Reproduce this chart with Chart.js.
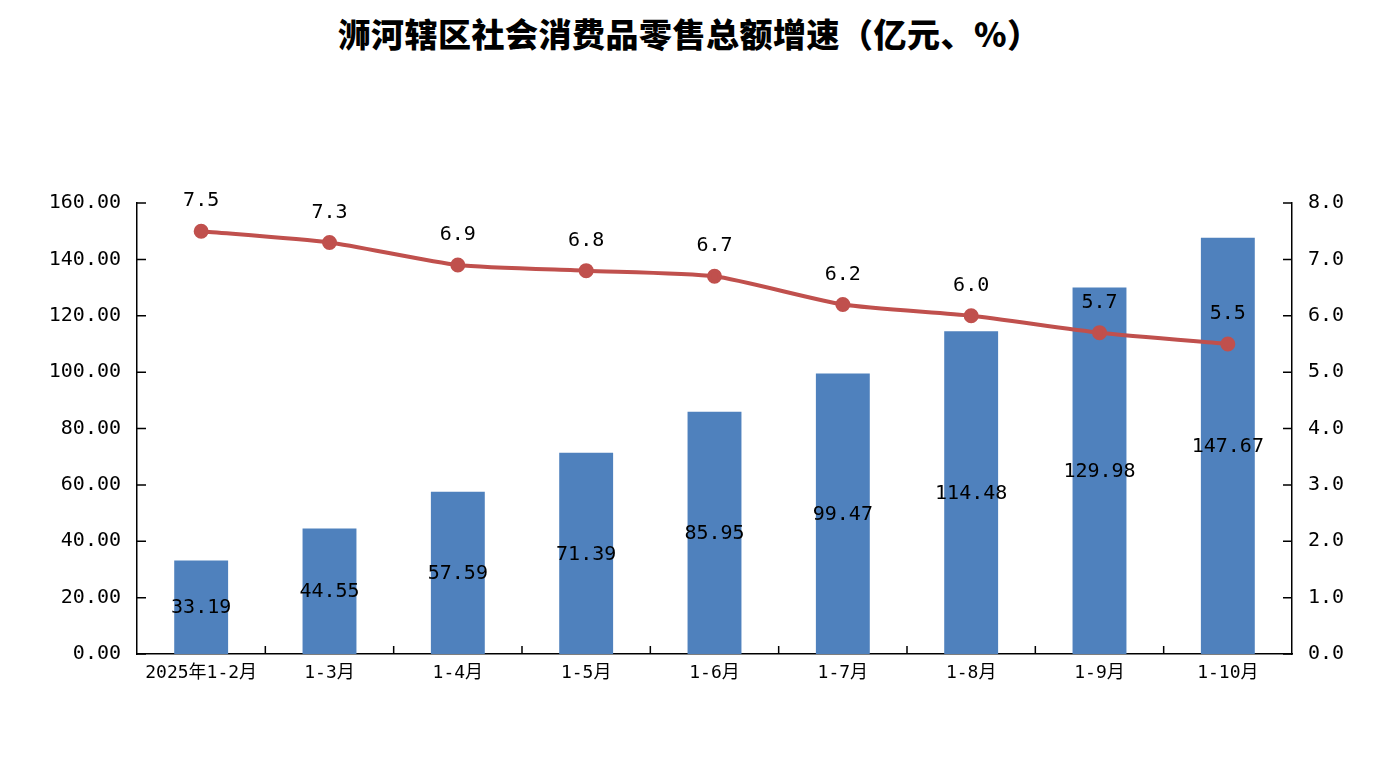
<!DOCTYPE html>
<html>
<head>
<meta charset="utf-8">
<script src="https://cdn.jsdelivr.net/npm/chart.js@4"></script>
<style>
    html, body { margin: 0; padding: 0; background: #fff; }
    #wrap { position: relative; width: 1378px; height: 779px; }
    #title {
        position: absolute; left: 0; top: 10px; width: 1378px; text-align: center;
        font-family: "Noto Sans CJK SC", sans-serif; font-weight: 900; font-size: 33px;
        color: #000; line-height: 46px; letter-spacing: 0.5px;
    }
    canvas { position: absolute; left: 0; top: 0; }
</style>
</head>
<body>
<div id="wrap">
    <div id="title">浉河辖区社会消费品零售总额增速（亿元、%）</div>
    <canvas id="chart" width="1378" height="779"></canvas>
</div>
<script>
const categories = ['2025年1-2月', '1-3月', '1-4月', '1-5月', '1-6月', '1-7月', '1-8月', '1-9月', '1-10月'];
const salesTotal = [33.19, 44.55, 57.59, 71.39, 85.95, 99.47, 114.48, 129.98, 147.67]; // 亿元
const growthRate = [7.5, 7.3, 6.9, 6.8, 6.7, 6.2, 6.0, 5.7, 5.5]; // %

const monoFont = '"DejaVu Sans Mono", "Noto Sans CJK SC", monospace';

// Value labels and inward tick marks (no datalabels plugin available)
const labelPlugin = {
    id: 'labels',
    afterDatasetsDraw(chart) {
        const ctx = chart.ctx;
        ctx.save();
        ctx.fillStyle = '#000';
        ctx.font = '20px ' + monoFont;
        ctx.textAlign = 'center';
        ctx.textBaseline = 'middle';

        // bar labels, centred in the bar
        chart.getDatasetMeta(0).data.forEach((bar, i) => {
            const mid = (bar.y + bar.base) / 2;
            ctx.fillText(salesTotal[i].toFixed(2), bar.x, mid + 1);
        });

        // line labels above points
        chart.getDatasetMeta(1).data.forEach((pt, i) => {
            ctx.fillText(growthRate[i].toFixed(1), pt.x, pt.y - 30);
        });

        // inward ticks
        ctx.strokeStyle = '#000';
        ctx.lineWidth = 1.5;
        const y = chart.scales.y;
        const y1 = chart.scales.y1;
        const x = chart.scales.x;
        ctx.beginPath();
        y.ticks.forEach(t => {
            const py = y.getPixelForValue(t.value);
            ctx.moveTo(y.right, py);
            ctx.lineTo(y.right + 9, py);
        });
        y1.ticks.forEach(t => {
            const py = y1.getPixelForValue(t.value);
            ctx.moveTo(y1.left, py);
            ctx.lineTo(y1.left - 9, py);
        });
        const step = (x.right - x.left) / categories.length;
        for (let i = 1; i < categories.length; i++) {
            const px = x.left + i * step;
            ctx.moveTo(px, x.top);
            ctx.lineTo(px, x.top - 8);
        }
        ctx.stroke();
        ctx.restore();
    }
};

new Chart(document.getElementById('chart'), {
    data: {
        labels: categories,
        datasets: [
            {
                type: 'bar',
                label: '社会消费品零售总额',
                data: salesTotal,
                backgroundColor: '#4F81BD',
                barPercentage: 0.42,
                categoryPercentage: 1,
                yAxisID: 'y',
                order: 2
            },
            {
                type: 'line',
                label: '增速',
                data: growthRate,
                borderColor: '#C0504D',
                backgroundColor: '#C0504D',
                borderWidth: 4,
                pointRadius: 5.5,
                pointHoverRadius: 5.5,
                tension: 0.2,
                yAxisID: 'y1',
                order: 1
            }
        ]
    },
    options: {
        responsive: false,
        animation: false,
        layout: { padding: { top: 203, bottom: 0, left: 0, right: 0 } },
        plugins: {
            legend: { display: false },
            tooltip: { enabled: false }
        },
        scales: {
            x: {
                offset: true,
                grid: { display: false, drawTicks: false },
                border: { color: '#000', width: 1.5 },
                ticks: {
                    color: '#000',
                    padding: 9,
                    maxRotation: 0,
                    font: { family: monoFont, size: 18 }
                },
                afterFit(scale) { scale.height = 125; }
            },
            y: {
                position: 'left',
                min: 0,
                max: 160,
                grid: { display: false, drawTicks: false },
                border: { color: '#000', width: 1.5 },
                ticks: {
                    stepSize: 20,
                    color: '#000',
                    padding: 16,
                    font: { family: monoFont, size: 20 },
                    callback: v => v.toFixed(2)
                },
                afterFit(scale) { scale.width = 137; }
            },
            y1: {
                position: 'right',
                min: 0,
                max: 8,
                grid: { display: false, drawTicks: false },
                border: { color: '#000', width: 1.5 },
                ticks: {
                    stepSize: 1,
                    color: '#000',
                    padding: 16,
                    font: { family: monoFont, size: 20 },
                    callback: v => v.toFixed(1)
                },
                afterFit(scale) { scale.width = 86; }
            }
        }
    },
    plugins: [labelPlugin]
});
</script>
</body>
</html>
